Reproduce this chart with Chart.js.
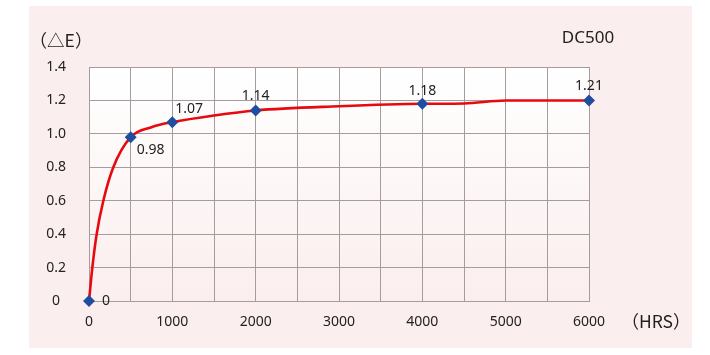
<!DOCTYPE html>
<html>
<head>
<meta charset="utf-8">
<script src="https://cdn.jsdelivr.net/npm/chart.js@4/dist/chart.umd.min.js"></script>
<style>
  html, body { margin: 0; padding: 0; background: #ffffff; }
  #wrap { width: 710px; height: 355px; position: relative; }
</style>
</head>
<body>
<div id="wrap"><canvas id="c" width="710" height="355"></canvas></div>
<script>
// ---- data ----
const markerHours  = [0, 500, 1000, 2000, 4000, 6000];
const markerValues = [0, 0.98, 1.07, 1.14, 1.18, 1.20];
const markerLabels = ['0', '0.98', '1.07', '1.14', '1.18', '1.21'];

// points
const curveHours  = [0, 40, 92, 172, 292, 500, 750, 1000, 1500, 2000, 3000, 4000, 4500, 5000, 6000];
const curveValues = [0, 0.2, 0.4, 0.6, 0.8, 0.98, 1.04, 1.07, 1.11, 1.14, 1.165, 1.18, 1.182, 1.20, 1.20];

const yTicks = [0, 0.2, 0.4, 0.6, 0.8, 1.0, 1.2, 1.4];
const yTickLabels = ['0', '0.2', '0.4', '0.6', '0.8', '1.0', '1.2', '1.4'];
const xTicks = [0, 1000, 2000, 3000, 4000, 5000, 6000];
const xTickLabels = ['0', '1000', '2000', '3000', '4000', '5000', '6000'];

const seriesName = 'DC500';
const yAxisTitle = '（△E）';
const xAxisTitle = '（HRS）';

// ---- styles ----
const FONT = "'Noto Sans', 'Noto Sans CJK JP', sans-serif";
const CJK = "'Noto Sans CJK JP', 'Noto Sans', sans-serif";
const TEXT = '#222222';
const PANEL = '#fbeeee';
const GRID = '#a59d9d';
// label offsets per marker [dx, dy, align]
const labelPlace = [[13, 0, 'left'], [6, 13, 'left'], [3, -13, 'left'], [0, -14, 'center'], [0, -13, 'center'], [0, -14, 'center']];

const bgPlugin = {
  id: 'bg',
  beforeDraw(chart) {
    const ctx = chart.ctx;
    const a = chart.chartArea;
    ctx.save();
    ctx.fillStyle = '#ffffff';
    ctx.fillRect(0, 0, chart.width, chart.height);
    ctx.fillStyle = PANEL;
    ctx.fillRect(29, 6, 663, 342);
    const g = ctx.createLinearGradient(0, a.top, 0, a.bottom);
    g.addColorStop(0, '#ffffff');
    g.addColorStop(1, PANEL);
    ctx.fillStyle = g;
    ctx.fillRect(a.left, a.top, a.right - a.left, a.bottom - a.top);
    ctx.restore();
  },
  afterDraw(chart) {
    const ctx = chart.ctx;
    ctx.save();
    ctx.fillStyle = TEXT;
    ctx.textBaseline = 'middle';
    ctx.font = "17.5px " + CJK;
    ctx.textAlign = 'center';
    ctx.fillText(yAxisTitle, 61, 40);
    ctx.fillText(xAxisTitle, 656, 321);
    ctx.font = "17px " + FONT;
    ctx.fillText(seriesName, 588, 38);
    // data labels
    const meta = chart.getDatasetMeta(0);
    ctx.font = "14px " + FONT;
    meta.data.forEach((pt, i) => {
      const p = labelPlace[i];
      ctx.textAlign = p[2];
      ctx.fillText(markerLabels[i], pt.x + p[0], pt.y + p[1]);
    });
    ctx.restore();
  }
};

new Chart(document.getElementById('c'), {
  type: 'scatter',
  data: {
    datasets: [
      {
        label: 'markers',
        data: markerHours.map((h, i) => ({ x: h, y: markerValues[i] })),
        showLine: false,
        clip: false,
        pointStyle: 'rectRot',
        pointRadius: 6,
        pointBackgroundColor: '#1f4e9e',
        pointBorderColor: '#1f4e9e',
        pointBorderWidth: 0
      },
      {
        label: seriesName,
        data: curveHours.map((h, i) => ({ x: h, y: curveValues[i] })),
        showLine: true,
        clip: false,
        borderColor: '#e8090f',
        borderWidth: 2.6,
        pointRadius: 0,
        cubicInterpolationMode: 'monotone'
      }
    ]
  },
  options: {
    responsive: false,
    animation: false,
    events: [],
    layout: { padding: { left: 0, right: 121, top: 67, bottom: 0 } },
    plugins: { legend: { display: false }, tooltip: { enabled: false } },
    scales: {
      x: {
        type: 'linear',
        min: 0, max: 6000,
        afterBuildTicks(axis) {
          const t = [];
          for (let v = 0; v <= 6000; v += 500) t.push({ value: v });
          axis.ticks = t;
        },
        afterFit(axis) { axis.height = 54; },
        grid: { color: GRID, lineWidth: 1, drawTicks: false },
        border: { color: GRID, width: 1 },
        ticks: {
          autoSkip: false, maxRotation: 0, padding: 13,
          color: TEXT, font: { family: FONT, size: 14 },
          callback(v) { const k = xTicks.indexOf(v); return k >= 0 ? xTickLabels[k] : ''; }
        }
      },
      y: {
        min: 0, max: 1.4,
        afterBuildTicks(axis) { axis.ticks = yTicks.map(v => ({ value: v })); },
        afterFit(axis) { axis.width = 89; },
        grid: { color: GRID, lineWidth: 1, drawTicks: false },
        border: { color: GRID, width: 1 },
        ticks: {
          padding: 23, crossAlign: 'center',
          color: TEXT, font: { family: FONT, size: 14 },
          callback(v) { const k = yTicks.findIndex(t => Math.abs(t - v) < 1e-9); return k >= 0 ? yTickLabels[k] : ''; }
        }
      }
    }
  },
  plugins: [bgPlugin]
});
</script>
</body>
</html>
